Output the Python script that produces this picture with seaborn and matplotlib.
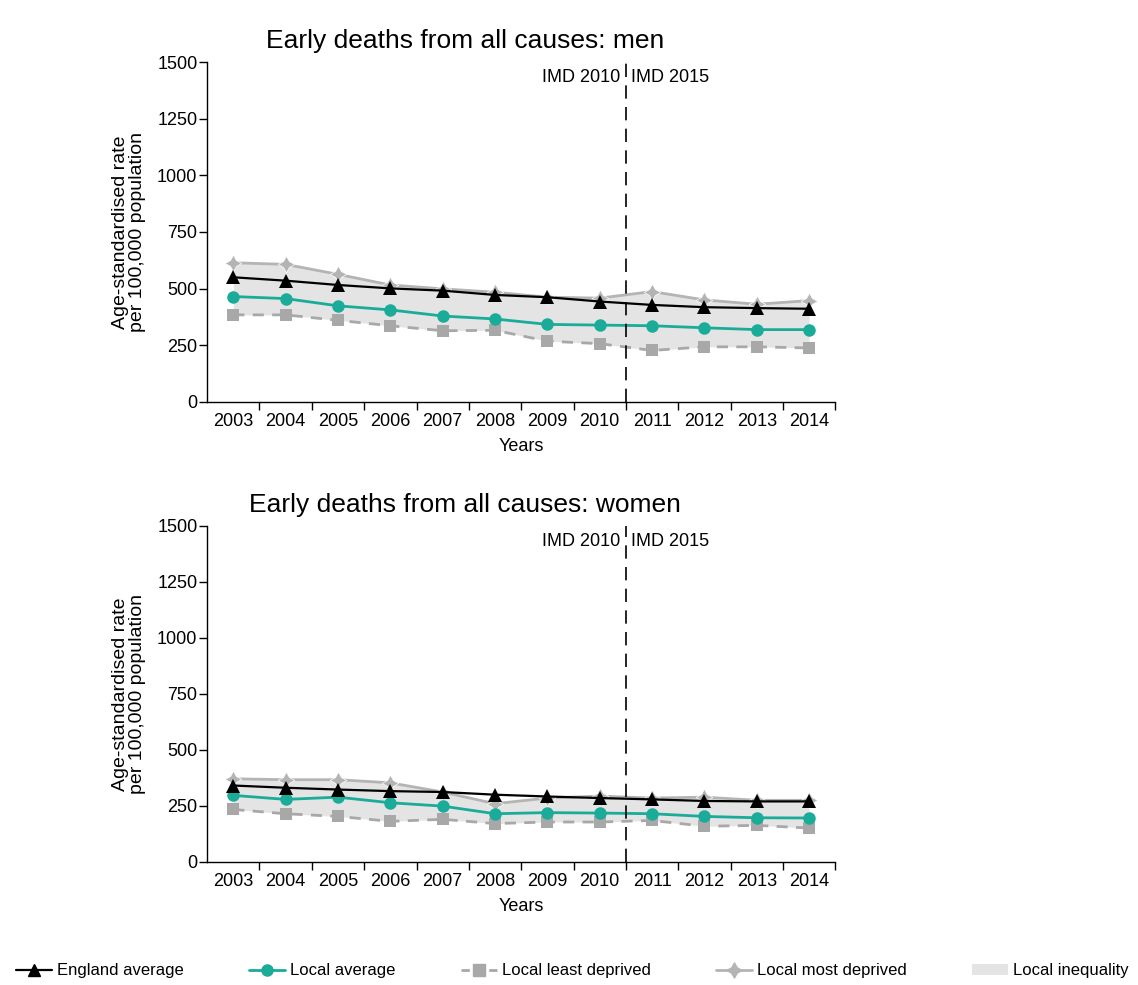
import numpy as np
import pandas as pd
import seaborn as sns
import matplotlib.pyplot as plt
from matplotlib.lines import Line2D
from matplotlib.patches import Patch

years = list(range(2003, 2015))

# men
men_england = [550, 535, 516, 501, 491, 472, 462, 443, 428, 418, 414, 411]
men_local = [465, 456, 424, 406, 379, 366, 342, 339, 336, 327, 319, 319]
men_least = [384, 384, 360, 336, 314, 316, 268, 257, 227, 243, 243, 238]
men_most = [614, 607, 563, 516, 499, 484, 462, 458, 487, 450, 431, 447]

# women
women_england = [341, 331, 323, 316, 312, 300, 292, 285, 279, 272, 270, 270]
women_local = [297, 279, 289, 264, 249, 215, 220, 218, 215, 203, 197, 196]
women_least = [234, 215, 203, 181, 190, 171, 178, 178, 185, 159, 163, 151]
women_most = [371, 367, 367, 353, 312, 260, 285, 294, 285, 289, 275, 275]

y_ticks = [0, 250, 500, 750, 1000, 1250, 1500]

sns.set_style("ticks")
plt.rcParams['font.family'] = ['Liberation Sans', 'DejaVu Sans']
plt.rcParams['text.color'] = 'black'
plt.rcParams['axes.labelcolor'] = 'black'
plt.rcParams['xtick.color'] = 'black'
plt.rcParams['ytick.color'] = 'black'

TEAL = '#1aab99'
GREY_LEAST = '#a8a8a8'
GREY_MOST = '#b4b4b4'
FILL = '#e4e4e4'

fig = plt.figure(figsize=(11.38, 9.85), dpi=100)
ax1 = fig.add_axes([0.182, 0.592, 0.552, 0.345])
ax2 = fig.add_axes([0.182, 0.125, 0.552, 0.341])


def draw_panel(ax, england, local, least, most, title):
    df = pd.DataFrame({"year": years, "england": england, "local": local,
                       "least": least, "most": most})
    ax.fill_between(df["year"], df["least"], df["most"], color=FILL, lw=0, zorder=1)
    sns.lineplot(data=df, x="year", y="least", ax=ax, color=GREY_LEAST, lw=2,
                 linestyle=(0, (4, 3)), marker="s", markersize=9, markeredgewidth=0, zorder=2)
    sns.lineplot(data=df, x="year", y="most", ax=ax, color=GREY_MOST, lw=2,
                 marker=(4, 1, 0), markersize=12, markeredgewidth=0.5, zorder=3)
    sns.lineplot(data=df, x="year", y="local", ax=ax, color=TEAL, lw=2,
                 marker="o", markersize=9, markeredgewidth=0, zorder=4)
    sns.lineplot(data=df, x="year", y="england", ax=ax, color="black", lw=1.6,
                 marker="^", markersize=10, markeredgewidth=0, zorder=5)

    ax.set_xlim(2002.5, 2014.5)
    ax.set_ylim(0, 1500)
    ax.set_yticks(y_ticks)
    ax.set_yticklabels([str(v) for v in y_ticks], fontsize=13)
    ax.set_xticks(years)
    ax.set_xticklabels([str(y) for y in years], fontsize=13)
    ax.set_xticks([y + 0.5 for y in years[:-1]] + [2014.5], minor=True)
    ax.tick_params(axis='x', which='major', length=0, pad=8)
    ax.tick_params(axis='x', which='minor', length=6, width=1, color='black')
    ax.tick_params(axis='y', length=6, width=1, color='black', pad=1)
    for s in ["left", "bottom"]:
        ax.spines[s].set_color("black")
        ax.spines[s].set_linewidth(1)
    sns.despine(ax=ax)

    ax.axvline(2010.5, color="black", lw=1.2, linestyle=(0, (8, 5)), zorder=6)
    ax.text(2010.4, 1470, "IMD 2010", ha="right", va="top", fontsize=13)
    ax.text(2010.6, 1470, "IMD 2015", ha="left", va="top", fontsize=13)

    ax.set_xlabel("Years", fontsize=13, labelpad=6)
    ax.set_ylabel("Age-standardised rate\nper 100,000 population", fontsize=14,
                  linespacing=1.0, labelpad=8)
    ax.set_title(title, fontsize=19, x=0.41, pad=10)


draw_panel(ax1, men_england, men_local, men_least, men_most,
           "Early deaths from all causes: men")
draw_panel(ax2, women_england, women_local, women_least, women_most,
           "Early deaths from all causes: women")

handles = [
    Line2D([], [], color="black", marker="^", markersize=9, lw=1.6),
    Line2D([], [], color=TEAL, marker="o", markersize=8, lw=2),
    Line2D([], [], color=GREY_LEAST, marker="s", markersize=8, lw=2, linestyle=(0, (3, 2))),
    Line2D([], [], color=GREY_MOST, marker=(4, 1, 0), markersize=11, lw=2),
    Patch(facecolor=FILL, edgecolor="none"),
]
labels = ["England average", "Local average", "Local least deprived",
          "Local most deprived", "Local inequality"]
fig.legend(handles, labels, loc="lower left", bbox_to_anchor=(0.008, 0.0, 0.99, 0.03),
           ncol=5, mode="expand", frameon=False, fontsize=12, handlelength=2.2,
           handletextpad=0.3, borderaxespad=0.0)

fig.savefig("out.png", dpi=100)
